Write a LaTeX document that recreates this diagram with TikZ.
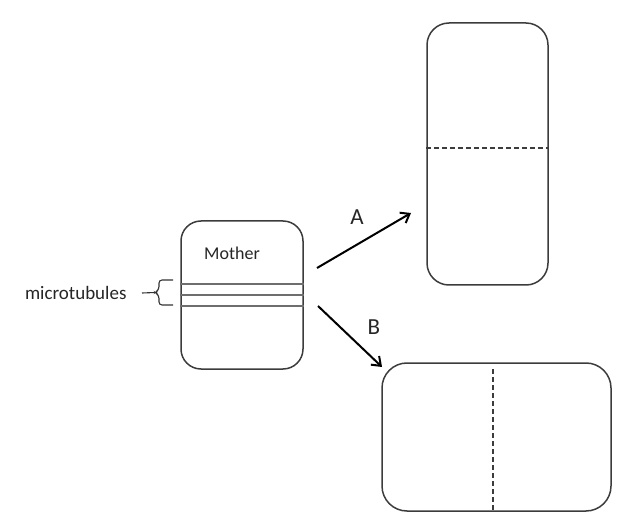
\documentclass[tikz,border=0pt]{standalone}
\usepackage{fontspec}
\setmainfont{Carlito}
\usepackage[dvipsnames]{xcolor}
\definecolor{cell_gray}{RGB}{60,60,60}
\definecolor{tube_gray}{RGB}{110,110,110}
\usepackage{tikz}
\usetikzlibrary{positioning, arrows.meta}
\tikzstyle{cell} = [rectangle, rounded corners=20pt, line width=1.5pt, draw=cell_gray, inner sep=0pt]
\tikzstyle{tubule} = [line width=1.1pt, tube_gray]
\tikzstyle{split} = [line width=1.1pt, cell_gray, dash pattern=on 5pt off 3pt]
\tikzstyle{arrow} = [line width=2pt, -{Straight Barb[length=8pt, width=12pt]}, black]
\tikzstyle{label} = [font=\fontsize{17}{20}\selectfont, text=black!85]

\begin{document}
\begin{tikzpicture}[x=1pt, y=1pt]

    \useasboundingbox (0,0) rectangle (643,523);

    \node[cell, minimum width=122pt, minimum height=148pt] (mother) at (242,228) {};
    \node[label, font=\fontsize{18}{21}\selectfont] (mothertext) at (232,270) {Mother};
    \node[cell, rounded corners=22pt, minimum width=121pt, minimum height=262pt] (topcell) at (487.5,369) {};
    \node[cell, rounded corners=25pt, minimum width=229pt, minimum height=148pt] (botcell) at (496.5,86) {};

    % microtubules across the mother cell
    \draw[tubule] (mother.west |- 0,239) -- (mother.east |- 0,239);
    \draw[tubule] (mother.west) -- (mother.east);
    \draw[tubule] (mother.west |- 0,217) -- (mother.east |- 0,217);

    % brace and its label
    \coordinate (bracelow) at (173,218);
    \coordinate (bracehigh) at (173,243);
    \coordinate (bracetip) at (155,230.5);
    \draw[line width=1.1pt, black!80, rounded corners=3pt] (bracehigh) -- (159,243) -- (159,233.5)
        -- (bracetip) -- (159,227.5) -- (159,218) -- (bracelow);
    \node[label, font=\fontsize{19}{22}\selectfont, anchor=east] (tubetext) at (130,230) {microtubules};
    \draw[line width=1.1pt, black!80] (bracetip) -- (tubetext.east -| 142,0);

    % planes of division
    \draw[split] (topcell.west |- 0,375) -- (topcell.east |- 0,375);
    \draw[split, line width=1.6pt] (botcell.north -| 493,0) ++(0,-7) coordinate (cuttop) -- (botcell.south -| 493,0);

    % the two ways of dividing
    \coordinate (astart) at (317,255);
    \coordinate (aend) at (411,310);
    \coordinate (bstart) at (318,217);
    \coordinate (bend) at (382,156);
    \draw[arrow] (astart) -- (aend);
    \draw[arrow] (bstart) -- (bend);
    \node[label, font=\fontsize{23}{26}\selectfont] (alabel) at (357,306) {A};
    \node[label, font=\fontsize{23}{26}\selectfont] (blabel) at (374,196) {B};

\end{tikzpicture}
\end{document}
